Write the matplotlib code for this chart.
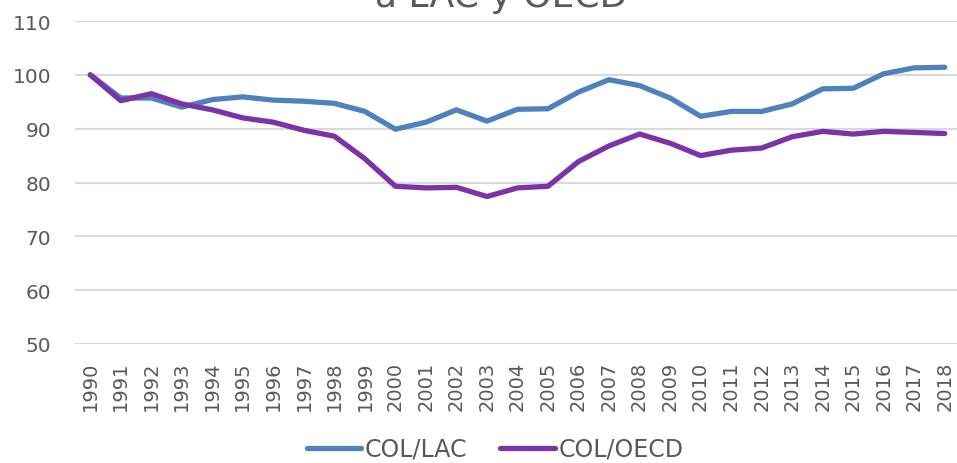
import matplotlib
matplotlib.use('Agg')
import matplotlib.pyplot as plt

# Datos
anios = [str(a) for a in range(1990, 2019)]
col_lac = [100.0, 95.7, 95.7, 94.0, 95.4, 95.9, 95.3, 95.1, 94.7, 93.2,
           89.9, 91.2, 93.5, 91.4, 93.6, 93.7, 96.8, 99.1, 98.0, 95.7,
           92.3, 93.2, 93.2, 94.6, 97.4, 97.5, 100.2, 101.3, 101.4]
col_oecd = [100.0, 95.2, 96.5, 94.6, 93.5, 92.0, 91.2, 89.7, 88.6, 84.4,
            79.3, 79.0, 79.1, 77.4, 79.0, 79.3, 83.9, 86.8, 89.0, 87.3,
            85.0, 86.0, 86.4, 88.5, 89.5, 89.0, 89.5, 89.3, 89.1]
yticks = [50, 60, 70, 80, 90, 100, 110]

gris = '#595959'
plt.rcParams['font.family'] = ['DejaVu Sans']

fig = plt.figure(figsize=(9.57, 4.64), dpi=100)
ax = fig.add_axes([75 / 957, 119 / 464, 885 / 957, 323 / 464])

x = range(len(anios))
ax.plot(x, col_lac, color='#4f81bd', lw=3.8, solid_capstyle='round', label='COL/LAC')
ax.plot(x, col_oecd, color='#7b33a8', lw=3.8, solid_capstyle='round', label='COL/OECD')

ax.set_xlim(-0.5, len(anios) - 0.5)
ax.set_ylim(50, 110)
ax.set_yticks(yticks)
ax.set_xticks(list(x))
ax.set_xticklabels(anios, rotation=90)
ax.tick_params(axis='y', length=0, pad=17, labelsize=14.5, labelcolor=gris)
ax.tick_params(axis='x', length=0, pad=12, labelsize=14, labelcolor=gris)
ax.grid(axis='y', color='#d9d9d9', lw=1.5)
ax.set_axisbelow(True)
for s in ax.spines.values():
    s.set_visible(False)

fig.text(501 / 957, 457 / 464, 'a LAC y OECD', ha='center', va='baseline',
         fontsize=26, color=gris)

leg = fig.legend(loc='center', bbox_to_anchor=(495 / 957, 14 / 464), ncol=2,
                 frameon=False, fontsize=17, handlelength=2.3,
                 handletextpad=0.15, columnspacing=1.4)
for t in leg.get_texts():
    t.set_color(gris)

fig.savefig('out.png', dpi=100)
